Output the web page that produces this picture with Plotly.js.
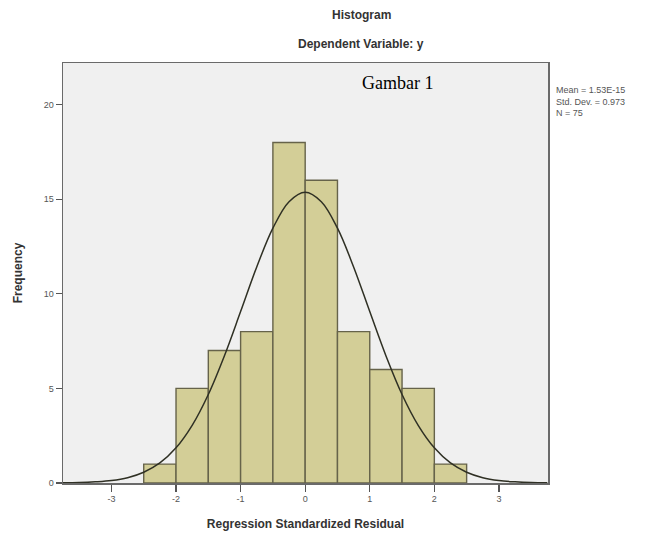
<!DOCTYPE html>
<html>
<head>
<meta charset="utf-8">
<script src="https://cdn.plot.ly/plotly-3.0.1.min.js"></script>
<style>html,body{margin:0;padding:0;background:#fff;}#chart{width:652px;height:538px;}</style>
</head>
<body>
<div id="chart"></div>
<script>
// Histogram bins (centers) and frequencies
var binCenters = [-2.25, -1.75, -1.25, -0.75, -0.25, 0.25, 0.75, 1.25, 1.75, 2.25];
var frequencies = [1, 5, 7, 8, 18, 16, 8, 6, 5, 1];

// Normal curve points
var curveX = [-3.75, -3.5, -3.25, -3, -2.75, -2.5, -2.25, -2, -1.75, -1.5, -1.25, -1, -0.75, -0.5, -0.25, 0,
              0.25, 0.5, 0.75, 1, 1.25, 1.5, 1.75, 2, 2.25, 2.5, 2.75, 3, 3.25, 3.5, 3.75];
var curveY = [0.01, 0.02, 0.06, 0.13, 0.28, 0.57, 1.06, 1.86, 3.05, 4.68, 6.73, 9.06, 11.42, 13.47, 14.87, 15.37,
              14.87, 13.47, 11.42, 9.06, 6.73, 4.68, 3.05, 1.86, 1.06, 0.57, 0.28, 0.13, 0.06, 0.02, 0.01];

var xTickVals = [-3, -2, -1, 0, 1, 2, 3];
var yTickVals = [0, 5, 10, 15, 20];
var statsLines = ["Mean = 1.53E-15", "Std. Dev. = 0.973", "N = 75"];

var traces = [
  {
    type: 'bar', x: binCenters, y: frequencies, width: 0.5,
    marker: {color: '#d3ce97', line: {color: '#66634a', width: 1.4}},
    hoverinfo: 'x+y'
  },
  {
    type: 'scatter', mode: 'lines', x: curveX, y: curveY,
    line: {color: '#2f3024', width: 1.5, shape: 'spline'},
    hoverinfo: 'skip'
  }
];

var layout = {
  width: 652, height: 538,
  margin: {l: 63, r: 104, t: 63, b: 55},
  paper_bgcolor: '#ffffff',
  plot_bgcolor: '#f0f0f0',
  showlegend: false,
  bargap: 0,
  xaxis: {
    range: [-3.75, 3.76], tickvals: xTickVals, ticktext: xTickVals.map(String),
    showgrid: false, zeroline: false,
    showline: true, mirror: true, linecolor: '#6a6a6a', linewidth: 1.5,
    ticks: 'outside', ticklen: 7, tickcolor: '#555', tickwidth: 1.2,
    tickfont: {family: 'Liberation Sans, Arial, sans-serif', size: 9, color: '#555'},
    title: {text: '<b>Regression Standardized Residual</b>', standoff: 16,
            font: {family: 'Liberation Sans, Arial, sans-serif', size: 12, color: '#333'}}
  },
  yaxis: {
    range: [0, 22.2], tickvals: yTickVals, ticktext: yTickVals.map(String),
    showgrid: false, zeroline: false,
    showline: true, mirror: true, linecolor: '#6a6a6a', linewidth: 1.5,
    ticks: 'outside', ticklen: 6, tickcolor: '#555', tickwidth: 1.2,
    tickfont: {family: 'Liberation Sans, Arial, sans-serif', size: 9, color: '#555'},
    title: {text: '<b>Frequency</b>', standoff: 18,
            font: {family: 'Liberation Sans, Arial, sans-serif', size: 12, color: '#333'}}
  },
  annotations: [
    {xref: 'paper', yref: 'paper', x: 0.615, y: 1, yshift: 48, xanchor: 'center', yanchor: 'middle',
     text: '<b>Histogram</b>', showarrow: false,
     font: {family: 'Liberation Sans, Arial, sans-serif', size: 12, color: '#333'}},
    {xref: 'paper', yref: 'paper', x: 0.615, y: 1, yshift: 19, xanchor: 'center', yanchor: 'middle',
     text: '<b>Dependent Variable: y</b>', showarrow: false,
     font: {family: 'Liberation Sans, Arial, sans-serif', size: 12, color: '#333'}},
    {xref: 'paper', yref: 'paper', x: 0.69, y: 1, yshift: -20, xanchor: 'center', yanchor: 'middle',
     text: 'Gambar 1', showarrow: false,
     font: {family: 'Liberation Serif, Times New Roman, serif', size: 18, color: '#000'}},
    {xref: 'paper', yref: 'paper', x: 1, xshift: 6, y: 1, yshift: -20, xanchor: 'left', yanchor: 'top',
     align: 'left', text: statsLines.join('<br>'), showarrow: false,
     font: {family: 'Liberation Sans, Arial, sans-serif', size: 9, color: '#555'}}
  ]
};

Plotly.newPlot('chart', traces, layout, {displayModeBar: false, staticPlot: true});
</script>
</body>
</html>
